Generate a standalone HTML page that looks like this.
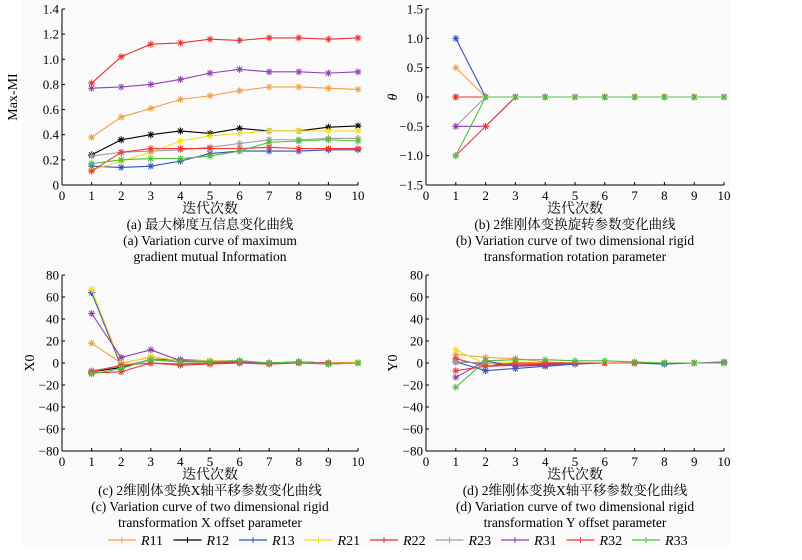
<!DOCTYPE html>
<html><head><meta charset="utf-8">
<style>
html,body{margin:0;padding:0;background:#fff;}
svg{display:block;font-family:"Liberation Serif","Noto Serif CJK SC","Noto Sans CJK SC",serif;}
</style></head>
<body>
<svg id="fig" width="802" height="560" viewBox="0 0 802 560">
<rect x="22" y="0" width="708" height="548" fill="#fafafa"/>
</svg>
<script>
const seriesNames=["R11","R12","R13","R21","R22","R23","R31","R32","R33"];
const seriesColors=["#f0a040","#000000","#3050c0","#f0e020","#e83030","#a0a0a0","#9040b0","#f03838","#50c040"];
const iterations=[1,2,3,4,5,6,7,8,9,10];
const xTicks=[0,1,2,3,4,5,6,7,8,9,10];
// panel a
const aTicks=[0,0.2,0.4,0.6,0.8,1.0,1.2,1.4];
const aTickLabels=["0","0.2","0.4","0.6","0.8","1.0","1.2","1.4"];
const aR11=[0.38,0.54,0.61,0.68,0.71,0.75,0.78,0.78,0.77,0.76];
const aR12=[0.24,0.36,0.40,0.43,0.41,0.45,0.43,0.43,0.46,0.47];
const aR13=[0.15,0.14,0.15,0.19,0.25,0.27,0.27,0.27,0.28,0.28];
const aR21=[0.12,0.19,0.26,0.35,0.39,0.41,0.43,0.43,0.43,0.43];
const aR22=[0.81,1.02,1.12,1.13,1.16,1.15,1.17,1.17,1.16,1.17];
const aR23=[0.23,0.26,0.27,0.28,0.30,0.33,0.36,0.36,0.37,0.37];
const aR31=[0.77,0.78,0.80,0.84,0.89,0.92,0.90,0.90,0.89,0.90];
const aR32=[0.11,0.26,0.29,0.29,0.29,0.29,0.30,0.29,0.29,0.29];
const aR33=[0.17,0.20,0.21,0.21,0.23,0.27,0.34,0.35,0.36,0.35];
// panel b
const bTicks=[-1.5,-1.0,-0.5,0,0.5,1.0,1.5];
const bTickLabels=["\u22121.5","\u22121.0","\u22120.5","0","0.5","1.0","1.5"];
const bR11=[0.5,0,0,0,0,0,0,0,0,0];
const bR12=[0,0,0,0,0,0,0,0,0,0];
const bR13=[1,0,0,0,0,0,0,0,0,0];
const bR21=[0,0,0,0,0,0,0,0,0,0];
const bR22=[0,0,0,0,0,0,0,0,0,0];
const bR23=[-0.5,0,0,0,0,0,0,0,0,0];
const bR31=[-0.5,-0.5,0,0,0,0,0,0,0,0];
const bR32=[-1,-0.5,0,0,0,0,0,0,0,0];
const bR33=[-1,0,0,0,0,0,0,0,0,0];
// panel c
const cTicks=[-80,-60,-40,-20,0,20,40,60,80];
const cTickLabels=["\u221280","\u221260","\u221240","\u221220","0","20","40","60","80"];
const cR11=[18,0,5,2,2,2,0,1,0,0];
const cR12=[-8,-4,3,1,1,1,0,1,0,0];
const cR13=[64,-3,3,3,2,2,0,1,0,0];
const cR21=[67,-1,6,2,2,2,0,1,0,1];
const cR22=[-9,-8,0,-1,0,0,0,0,-1,0];
const cR23=[-7,-3,3,1,1,1,0,1,0,0];
const cR31=[45,5,12,2,1,1,0,1,0,0];
const cR32=[-8,-2,0,-2,-1,0,-1,0,0,0];
const cR33=[-10,-5,3,1,1,2,0,1,-1,0];
// panel d
const dR11=[8,5,4,1,0,0,0,0,0,0];
const dR12=[1,0,-2,-1,0,0,0,0,0,0];
const dR13=[1,-7,-5,-3,-1,0,0,-1,0,0];
const dR21=[12,-1,1,0,0,0,0,0,0,0];
const dR22=[4,-3,-2,-1,0,0,0,0,0,0];
const dR23=[1,0,-1,0,0,0,0,0,0,0];
const dR31=[-13,2,-3,-2,0,0,0,0,0,1];
const dR32=[-7,-3,0,0,0,0,0,0,0,0];
const dR33=[-22,2,3,3,2,2,1,0,0,0];

const NS="http://www.w3.org/2000/svg";
const fig=document.getElementById('fig');
function mk(tag,attrs,parent){const e=document.createElementNS(NS,tag);for(const k in attrs)e.setAttribute(k,attrs[k]);(parent||fig).appendChild(e);return e;}

function panel(cfg){
  const g=mk('g',{});
  
  
  const x0=cfg.x0,x1=cfg.x1,yb=cfg.yb,yt=cfg.yt;
  const ymin=cfg.ticks[0],ymax=cfg.ticks[cfg.ticks.length-1];
  const sx=v=>x0+(v-0)/10*(x1-x0);
  const sy=v=>yb-(v-ymin)/(ymax-ymin)*(yb-yt);
  const ax=mk('g',{},g);
  
  
  mk('line',{x1:x0,y1:yt,x2:x0,y2:yb,stroke:'#000','stroke-width':1},ax);
  mk('line',{x1:x0,y1:yb,x2:x1,y2:yb,stroke:'#000','stroke-width':1},ax);
  xTicks.forEach(t=>{
    mk('line',{x1:sx(t),y1:yb,x2:sx(t),y2:yb-3,stroke:'#000'},ax);
    const tx=mk('text',{x:sx(t),y:yb+15,'text-anchor':'middle','font-size':13},ax);
    tx.textContent=t;
    
    
  });
  cfg.ticks.forEach((t,i)=>{
    mk('line',{x1:x0,y1:sy(t),x2:x0+3,y2:sy(t),stroke:'#000'},ax);
    const tx=mk('text',{x:x0-3,y:sy(t)+4.5,'text-anchor':'end','font-size':13},ax);
    tx.textContent=cfg.labels[i];
    
    
  });
  const yl=mk('text',{x:cfg.ylx,y:(yt+yb)/2,'text-anchor':'middle','font-size':14,transform:`rotate(-90 ${cfg.ylx} ${(yt+yb)/2})`,'font-style':cfg.yitalic?'italic':'normal'},g);
  yl.textContent=cfg.ylabel;
  
  
  const xl=mk('text',{x:(x0+x1)/2,y:yb+28,'text-anchor':'middle','font-size':14},g);
  xl.textContent='迭代次数';
  
  
  cfg.caps.forEach((c,i)=>{
    const t=mk('text',{x:(x0+x1)/2,y:yb+44+i*16,'text-anchor':'middle','font-size':13.5},g);
    t.textContent=c;
    
    
  });
  cfg.series.forEach((arr,si)=>{
    const col=seriesColors[si];
    const sg=mk('g',{},g);
    
    
    const pts=arr.map((v,i)=>sx(iterations[i])+','+sy(v)).join(' ');
    mk('polyline',{points:pts,fill:'none',stroke:col,'stroke-width':1.1},sg);
    arr.forEach((v,i)=>{
      const cx=sx(iterations[i]),cy=sy(v);
      const m=mk('path',{d:`M${cx-3.5},${cy}H${cx+3.5}M${cx},${cy-3.5}V${cy+3.5}M${cx-2.5},${cy-2.5}L${cx+2.5},${cy+2.5}M${cx-2.5},${cy+2.5}L${cx+2.5},${cy-2.5}`,stroke:col,'stroke-width':1},sg);
      
      
    });
  });
}
panel({name:'panel-a-max-mi',x0:62,x1:358,yb:185,yt:9,ticks:aTicks,labels:aTickLabels,ylabel:'Max-MI',ylx:17,
  caps:['(a) 最大梯度互信息变化曲线','(a) Variation curve of maximum','gradient mutual Information'],
  series:[aR11,aR12,aR13,aR21,aR22,aR23,aR31,aR32,aR33]});
panel({name:'panel-b-rotation',x0:426,x1:724,yb:185,yt:9,ticks:bTicks,labels:bTickLabels,ylabel:'θ',ylx:397,yitalic:true,
  caps:['(b) 2维刚体变换旋转参数变化曲线','(b) Variation curve of two dimensional rigid','transformation rotation parameter'],
  series:[bR11,bR12,bR13,bR21,bR22,bR23,bR31,bR32,bR33]});
panel({name:'panel-c-x-offset',x0:62,x1:358,yb:451,yt:275,ticks:cTicks,labels:cTickLabels,ylabel:'X0',ylx:34,
  caps:['(c) 2维刚体变换X轴平移参数变化曲线','(c) Variation curve of two dimensional rigid','transformation X offset parameter'],
  series:[cR11,cR12,cR13,cR21,cR22,cR23,cR31,cR32,cR33]});
panel({name:'panel-d-y-offset',x0:426,x1:724,yb:451,yt:275,ticks:cTicks,labels:cTickLabels,ylabel:'Y0',ylx:397,
  caps:['(d) 2维刚体变换X轴平移参数变化曲线','(d) Variation curve of two dimensional rigid','transformation Y offset parameter'],
  series:[dR11,dR12,dR13,dR21,dR22,dR23,dR31,dR32,dR33]});
// legend
const lg=mk('g',{});


seriesNames.forEach((n,i)=>{
  const x=108+i*65.5,y=540;
  const e=mk('g',{},lg);
  
  
  mk('line',{x1:x,y1:y,x2:x+28,y2:y,stroke:seriesColors[i],'stroke-width':1.2},e);
  mk('path',{d:`M${x+14},${y-3}V${y+3}M${x+11},${y}H${x+17}`,stroke:seriesColors[i]},e);
  const t=mk('text',{x:x+33,y:y+5,'font-size':14},e);
  const it=document.createElementNS(NS,'tspan');it.setAttribute('font-style','italic');it.textContent='R';t.appendChild(it);
  t.appendChild(document.createTextNode(n.slice(1)));
});
</script>
</body></html>
